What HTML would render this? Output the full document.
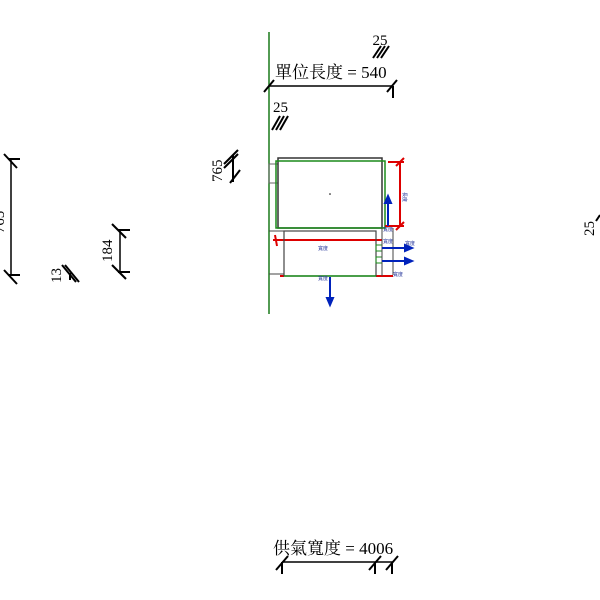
<!DOCTYPE html>
<html><head><meta charset="utf-8"><style>html,body{margin:0;padding:0;background:#fff}svg{display:block}</style></head>
<body>
<svg width="600" height="600" viewBox="0 0 600 600" xmlns="http://www.w3.org/2000/svg" font-family="'Liberation Serif','Noto Serif CJK SC',serif">
<!-- green wall line -->
<line x1="269" y1="32" x2="269" y2="314" stroke="#1a7a1a" stroke-width="1.5"/>
<!-- top dim -->
<text x="380" y="45" font-size="15" text-anchor="middle">25</text>
<g stroke="#000" stroke-width="2">
<line x1="373" y1="58" x2="381" y2="46"/><line x1="377" y1="58" x2="385" y2="46"/><line x1="381" y1="58" x2="389" y2="46"/>
</g>
<text x="275" y="78" font-size="17">單位長度 = 540</text>
<line x1="269" y1="86" x2="393" y2="86" stroke="#000" stroke-width="1.5"/>
<g stroke="#000" stroke-width="2">
<line x1="264" y1="92" x2="274" y2="80"/><line x1="387" y1="92" x2="397" y2="80"/><line x1="393" y1="86" x2="393" y2="98"/>
</g>
<text x="273" y="112" font-size="15">25</text>
<g stroke="#000" stroke-width="2">
<line x1="272" y1="130" x2="280" y2="116"/><line x1="276" y1="130" x2="284" y2="116"/><line x1="280" y1="130" x2="288" y2="116"/>
</g>
<!-- 765 -->
<text transform="translate(222,182) rotate(-90)" font-size="15">765</text>
<g stroke="#000" stroke-width="2">
<line x1="224" y1="168" x2="238" y2="154"/><line x1="224" y1="164" x2="238" y2="150"/><line x1="230" y1="183" x2="240" y2="170"/><line x1="233" y1="155" x2="233" y2="182"/>
</g>
<!-- top box -->
<rect x="269" y="164" width="9" height="19" fill="none" stroke="#666" stroke-width="1"/>
<rect x="278" y="158" width="104" height="70" fill="none" stroke="#333" stroke-width="1.5"/>
<rect x="276" y="161" width="109" height="67" fill="none" stroke="#1a8a1a" stroke-width="1.5"/>
<circle cx="330" cy="194" r="0.8" fill="#000"/>
<!-- red vertical dim -->
<g stroke="#d00" stroke-width="2" fill="none">
<line x1="388" y1="162" x2="404" y2="162"/><line x1="400" y1="162" x2="400" y2="227"/><line x1="385" y1="226" x2="404" y2="226"/>
<line x1="396" y1="166" x2="404" y2="158"/><line x1="396" y1="230" x2="404" y2="222"/>
<line x1="273" y1="240" x2="382" y2="240"/><line x1="275" y1="235" x2="277" y2="246"/>
<line x1="280" y1="276" x2="284" y2="276"/><line x1="376" y1="276" x2="393" y2="276"/>
</g>
<!-- lower box -->
<rect x="284" y="231" width="92" height="45" fill="none" stroke="#444" stroke-width="1.2"/>
<line x1="284" y1="276" x2="376" y2="276" stroke="#1a8a1a" stroke-width="1.5"/>
<line x1="269" y1="231" x2="284" y2="231" stroke="#444"/>
<line x1="269" y1="274" x2="284" y2="274" stroke="#444"/>
<rect x="376" y="245" width="6" height="6" fill="none" stroke="#1a8a1a"/>
<rect x="376" y="257" width="6" height="6" fill="none" stroke="#1a8a1a"/>
<line x1="393" y1="228" x2="393" y2="275" stroke="#444"/>
<line x1="382" y1="228" x2="382" y2="276" stroke="#444"/>
<!-- blue arrows -->
<g stroke="#0022bb" stroke-width="2" fill="#0022bb">
<line x1="388" y1="226" x2="388" y2="200"/><polygon points="388,196 385,203 391,203"/>
<line x1="382" y1="248" x2="408" y2="248"/><polygon points="412,248 405,245 405,251"/>
<line x1="382" y1="261" x2="408" y2="261"/><polygon points="412,261 405,258 405,264"/>
<line x1="330" y1="277" x2="330" y2="301"/><polygon points="330,305 327,298 333,298"/>
</g>
<g fill="#223399" font-size="5" font-family="'Noto Sans CJK TC',sans-serif">
<text x="318" y="250">寬度</text><text x="318" y="280">寬度</text>
<text x="405" y="245">寬度</text><text x="383" y="231">寬度</text><text x="383" y="243">寬度</text><text x="393" y="276">寬度</text>
<text transform="translate(403,192) rotate(90)">長度</text>
</g>
<!-- left dims -->
<line x1="11" y1="160" x2="11" y2="275" stroke="#000" stroke-width="1.5"/>
<g stroke="#000" stroke-width="2">
<line x1="4" y1="154" x2="17" y2="168"/><line x1="8" y1="159" x2="20" y2="159"/>
<line x1="4" y1="270" x2="17" y2="284"/><line x1="8" y1="275" x2="20" y2="275"/>
</g>
<text transform="translate(4,222) rotate(-90)" font-size="15" text-anchor="middle">765</text>
<line x1="120" y1="230" x2="120" y2="273" stroke="#000" stroke-width="1.5"/>
<g stroke="#000" stroke-width="2">
<line x1="112" y1="224" x2="126" y2="238"/><line x1="118" y1="230" x2="130" y2="230"/>
<line x1="112" y1="265" x2="126" y2="279"/><line x1="118" y1="272" x2="130" y2="272"/>
<line x1="62" y1="265" x2="76" y2="282"/><line x1="65" y1="265" x2="79" y2="282"/><line x1="70" y1="273" x2="70" y2="280"/>
</g>
<text transform="translate(112,262) rotate(-90)" font-size="15">184</text>
<text transform="translate(61,283) rotate(-90)" font-size="15">13</text>
<!-- right 25 -->
<text transform="translate(594,236) rotate(-90)" font-size="15">25</text>
<line x1="596" y1="221" x2="600" y2="215" stroke="#000" stroke-width="2"/>
<!-- bottom -->
<text x="273" y="554" font-size="17">供氣寬度 = 4006</text>
<line x1="282" y1="562" x2="393" y2="562" stroke="#000" stroke-width="1.5"/>
<g stroke="#000" stroke-width="2">
<line x1="276" y1="570" x2="288" y2="556"/><line x1="282" y1="562" x2="282" y2="574"/>
<line x1="369" y1="570" x2="381" y2="556"/><line x1="375" y1="562" x2="375" y2="574"/>
<line x1="386" y1="570" x2="398" y2="556"/><line x1="392" y1="562" x2="392" y2="574"/>
</g>
</svg>
</body></html>
